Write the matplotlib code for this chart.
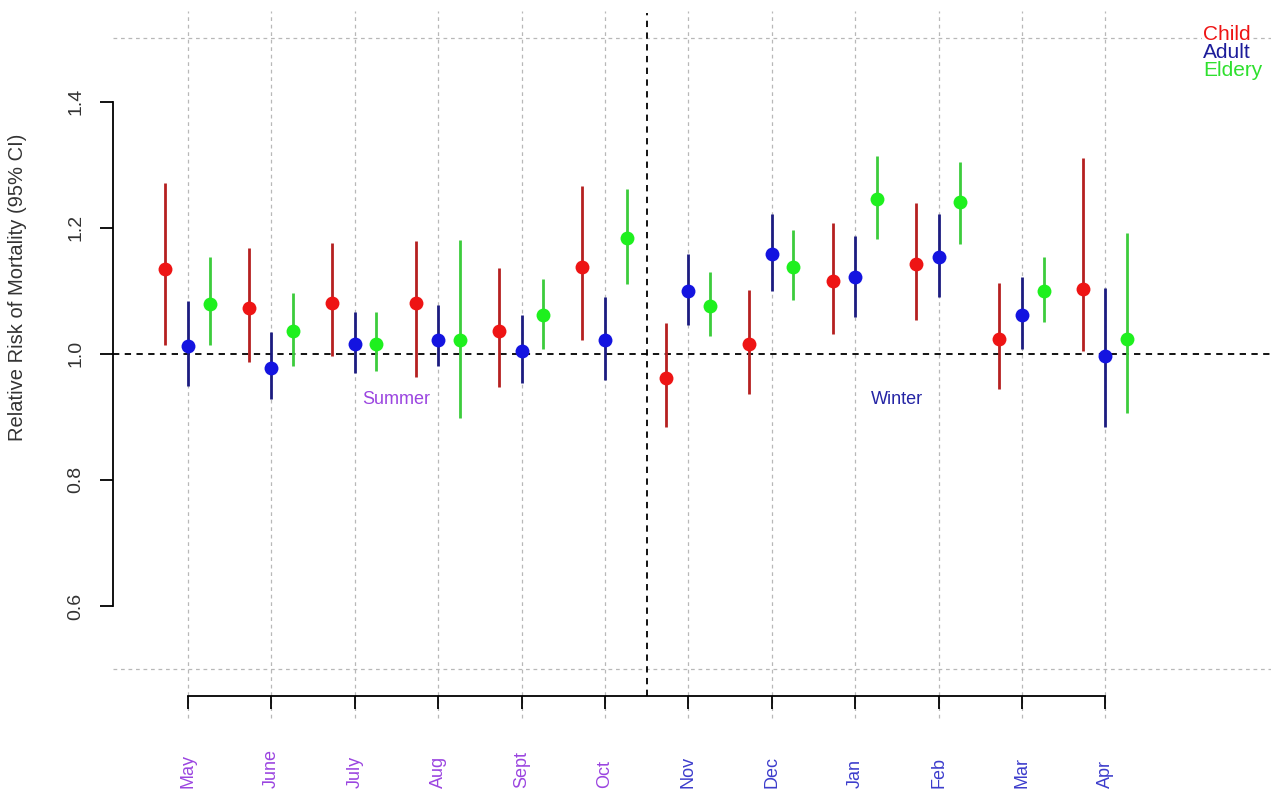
import matplotlib
matplotlib.use("Agg")
import matplotlib.pyplot as plt
import matplotlib.transforms as mtransforms
import numpy as np

plt.rcParams["font.family"] = ["Liberation Sans", "DejaVu Sans"]

# months along the x axis (May .. Apr)
months = ["May", "June", "July", "Aug", "Sept", "Oct",
          "Nov", "Dec", "Jan", "Feb", "Mar", "Apr"]

# relative risk estimates and 95% CI
child_rr = [1.134, 1.073, 1.081, 1.081, 1.036, 1.137,
            0.962, 1.016, 1.116, 1.142, 1.024, 1.102]
child_lo = [1.014, 0.987, 0.996, 0.964, 0.947, 1.022,
            0.884, 0.936, 1.031, 1.053, 0.944, 1.004]
child_hi = [1.271, 1.168, 1.176, 1.179, 1.136, 1.266,
            1.049, 1.101, 1.207, 1.239, 1.112, 1.311]

adult_rr = [1.013, 0.978, 1.016, 1.022, 1.005, 1.022,
            1.099, 1.159, 1.122, 1.154, 1.062, 0.996]
adult_lo = [0.949, 0.928, 0.970, 0.981, 0.953, 0.959,
            1.045, 1.099, 1.058, 1.090, 1.007, 0.884]
adult_hi = [1.083, 1.035, 1.066, 1.078, 1.061, 1.090,
            1.159, 1.221, 1.187, 1.221, 1.122, 1.104]

elder_rr = [1.079, 1.036, 1.016, 1.022, 1.062, 1.183,
            1.076, 1.137, 1.245, 1.241, 1.099, 1.023]
elder_lo = [1.014, 0.981, 0.972, 0.899, 1.007, 1.110,
            1.028, 1.086, 1.182, 1.174, 1.051, 0.906]
elder_hi = [1.153, 1.097, 1.066, 1.181, 1.119, 1.262,
            1.130, 1.196, 1.314, 1.304, 1.154, 1.191]

groups = ["Child", "Adult", "Eldery"]
yticks = [0.6, 0.8, 1.0, 1.2, 1.4]

W, H = 1271, 791
fig = plt.figure(figsize=(W / 100, H / 100), dpi=100)
ax = fig.add_axes([113 / W, (H - 696) / H, (W - 113) / W, (696 - 13) / H])

x = np.arange(1, 13)
ax.set_xlim(1 - 75 / 83.4, 1 + (W - 188) / 83.4)
ax.set_ylim(0.4574, 1.5404)

# reference lines
for xv in x:
    ax.axvline(xv, ymin=-0.032, ymax=1.003, color="#b8b8b8", lw=0.9,
               dashes=(3, 3), clip_on=False, zorder=0)
for yv in (0.5, 1.5):
    ax.axhline(yv, color="#b8b8b8", lw=0.9, dashes=(3, 3), zorder=0)
ax.axhline(1.0, color="black", lw=1.3, dashes=(3.5, 3), zorder=1)
ax.axvline(6.5, color="black", lw=1.3, dashes=(3.5, 3), zorder=1)

series = [
    (child_rr, child_lo, child_hi, -0.27, "#b52020", "#ee1414"),
    (adult_rr, adult_lo, adult_hi, 0.0, "#1c1c80", "#1414e0"),
    (elder_rr, elder_lo, elder_hi, 0.26, "#3ccc3c", "#1ef01e"),
]
for rr, lo, hi, off, lc, pc in series:
    xs = x + off
    ax.vlines(xs, lo, hi, color=lc, lw=2.0, zorder=2)
    ax.plot(xs, rr, "o", color=pc, markersize=10, markeredgewidth=0, zorder=3)

# axes styling, R-like
for s in ("top", "right"):
    ax.spines[s].set_visible(False)
ax.spines["left"].set_bounds(0.6, 1.4)
ax.spines["bottom"].set_bounds(1, 12)
ax.spines["left"].set_linewidth(1.3)
ax.spines["bottom"].set_linewidth(1.3)
ax.set_yticks(yticks)
ax.set_yticklabels([f"{v:.1f}" for v in yticks], rotation=90, va="center",
                   fontsize=14, color="#333333")
ax.set_xticks(x)
ax.set_xticklabels([])
ax.tick_params(axis="both", direction="out", length=9.5, width=1.3)
ax.tick_params(axis="y", pad=11)

fig.text(18 / W, 1 - 287 / H, "Relative Risk of Mortality (95% CI)",
         rotation=90, ha="center", va="center", fontsize=14.5, color="#333333")

# month labels
trans = mtransforms.blended_transform_factory(ax.transData, fig.transFigure)
for i, m in enumerate(months):
    col = "#9b45e0" if i < 6 else "#3d3dcc"
    ax.text(x[i], 3 / H, m, transform=trans, rotation=90, ha="center",
            va="bottom", fontsize=13, color=col)

# season labels
ax.text(3.5, 0.928, "Summer", ha="center", va="center", fontsize=13,
        color="#9b45e0", bbox=dict(fc="white", ec="none", pad=1), zorder=4)
ax.text(9.5, 0.928, "Winter", ha="center", va="center", fontsize=13,
        color="#2525a5", bbox=dict(fc="white", ec="none", pad=1), zorder=4)

# legend as coloured text
leg_cols = ["#ee1414", "#1c1c9a", "#2ee02e"]
leg_y = [35, 53, 71]
for g, c, yy in zip(groups, leg_cols, leg_y):
    fig.text(1203 / W, 1 - yy / H, g, ha="left", va="center", fontsize=15,
             color=c, bbox=dict(fc="white", ec="none", pad=0.5))

fig.savefig("out.png", dpi=100)
